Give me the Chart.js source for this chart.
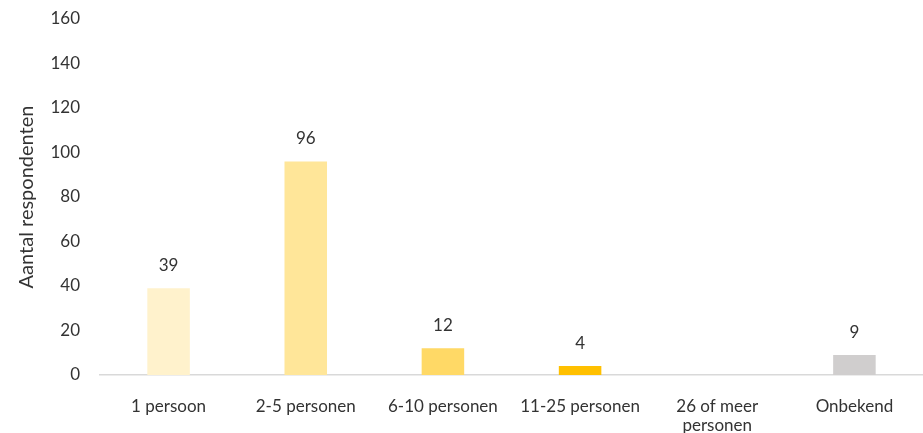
<!DOCTYPE html>
<html><head><meta charset="utf-8">
<script src="https://cdn.jsdelivr.net/npm/chart.js@4"></script>
<style>html,body{margin:0;padding:0;background:#fff;}#wrap{width:923px;height:433px;}</style>
</head><body><div id="wrap"><canvas id="c" width="923" height="433"></canvas></div>
<script>
const categories = ["1 persoon", "2-5 personen", "6-10 personen", "11-25 personen", ["26 of meer", "personen"], "Onbekend"];
const values = [39, 96, 12, 4, 0, 9];
const barColors = ["#FFF2CC", "#FFE699", "#FFD966", "#FFC000", "#FFC000", "#D0CECE"];
const yTicks = [0, 20, 40, 60, 80, 100, 120, 140, 160];
const yTitle = "Aantal respondenten";
const FONT = "Lato, 'Open Sans', sans-serif";
const TXT = "#333333";

const labelPlugin = {
  id: 'valueLabels',
  afterDatasetsDraw(chart) {
    const ctx = chart.ctx;
    const meta = chart.getDatasetMeta(0);
    ctx.save();
    ctx.font = "17px " + FONT;
    ctx.fillStyle = TXT;
    ctx.textAlign = 'center';
    ctx.textBaseline = 'alphabetic';
    meta.data.forEach((bar, i) => {
      const v = values[i];
      if (!v) return;
      ctx.fillText(String(v), bar.x, bar.y - 17);
    });
    ctx.restore();
  }
};

new Chart(document.getElementById('c'), {
  type: 'bar',
  data: { labels: categories, datasets: [{ data: values, backgroundColor: barColors, barPercentage: 0.31, categoryPercentage: 1 }] },
  options: {
    responsive: false, animation: false,
    layout: { padding: { top: 19, right: 0, left: 0, bottom: 0 } },
    plugins: { legend: { display: false }, tooltip: { enabled: false } },
    scales: {
      x: {
        grid: { display: false, drawTicks: false },
        border: { display: true, color: '#D9D9D9', width: 1.5 },
        ticks: { color: TXT, font: { family: FONT, size: 17, lineHeight: 1.1 }, padding: 22, maxRotation: 0, autoSkip: false },
        afterFit(s) { s.height = 58; }
      },
      y: {
        min: 0, max: 160,
        afterBuildTicks(s) { s.ticks = yTicks.map(v => ({ value: v })); },
        grid: { display: false, drawTicks: true, tickLength: 20 },
        border: { display: false },
        ticks: { color: TXT, font: { family: FONT, size: 17 }, padding: 0 },
        title: { display: true, text: yTitle, color: TXT, font: { family: FONT, size: 20 }, padding: { top: 15, bottom: 0 } },
        afterFit(s) { s.width = 100; }
      }
    }
  },
  plugins: [labelPlugin]
});
</script></body></html>
